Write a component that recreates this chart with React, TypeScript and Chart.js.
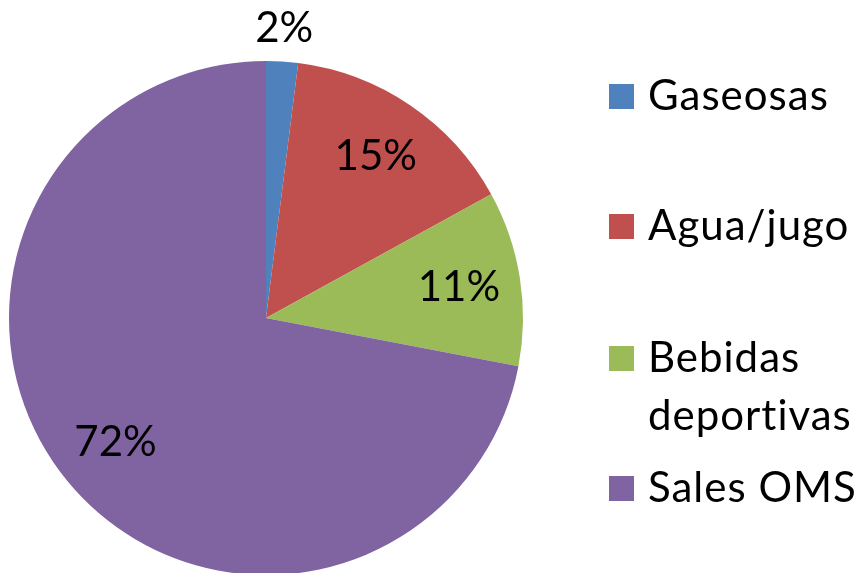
import React, { useEffect, useRef } from "react";
import { Chart, registerables } from "chart.js";

Chart.register(...registerables);

const categories: (string | string[])[] = ["Gaseosas", "Agua/jugo", ["Bebidas", "deportivas"], "Sales OMS"];
const values: number[] = [2, 15, 11, 72];
const pctLabels: string[] = ["2%", "15%", "11%", "72%"];
const colors: string[] = ["#4F81BD", "#C0504D", "#9BBB59", "#8064A2"];

const FONT = "Lato, 'Open Sans', sans-serif";

const labelPlugin = {
  id: "pctLabels",
  afterDatasetsDraw(chart: any) {
    const ctx = chart.ctx;
    const meta = chart.getDatasetMeta(0);
    const radii = [1.13, 0.76, 0.76, 0.76];
    ctx.save();
    ctx.fillStyle = "#000";
    ctx.font = `42px ${FONT}`;
    ctx.textAlign = "center";
    ctx.textBaseline = "middle";
    meta.data.forEach((arc: any, i: number) => {
      const p = arc.getProps(["x", "y", "startAngle", "endAngle", "outerRadius"], true);
      const mid = (p.startAngle + p.endAngle) / 2;
      const r = p.outerRadius * radii[i];
      ctx.fillText(pctLabels[i], p.x + Math.cos(mid) * r, p.y + Math.sin(mid) * r);
    });
    ctx.restore();
  },
};

const legendPlugin = {
  id: "sideLegend",
  afterDraw(chart: any) {
    const ctx = chart.ctx;
    const labels = chart.data.labels as (string | string[])[];
    const bg = chart.data.datasets[0].backgroundColor as string[];
    const baselines = [110, 240, 372, 502];
    const lineGap = 58;
    const sq = 25;
    const sqX = 609;
    const textX = 648;
    ctx.save();
    ctx.font = `42px ${FONT}`;
    (ctx as any).letterSpacing = "1px";
    ctx.textAlign = "left";
    ctx.textBaseline = "alphabetic";
    labels.forEach((lab, i) => {
      const b = baselines[i];
      ctx.fillStyle = bg[i];
      ctx.fillRect(sqX, b - sq - 1, sq, sq);
      ctx.fillStyle = "#000";
      const lines = Array.isArray(lab) ? lab : [lab];
      lines.forEach((t, j) => ctx.fillText(t, textX, b + j * lineGap));
    });
    ctx.restore();
  },
};

export default function App() {
  const ref = useRef<HTMLCanvasElement | null>(null);
  useEffect(() => {
    if (!ref.current) return;
    const chart = new Chart(ref.current, {
      type: "pie",
      data: {
        labels: categories as any,
        datasets: [
          {
            data: values,
            backgroundColor: colors,
            borderWidth: 0,
          },
        ],
      },
      options: {
        animation: false,
        responsive: false,
        maintainAspectRatio: false,
        layout: { padding: { left: 9, top: 61, right: 335, bottom: 25 } },
        plugins: {
          legend: { display: false },
          tooltip: { enabled: false },
        },
      },
      plugins: [labelPlugin, legendPlugin],
    });
    return () => chart.destroy();
  }, []);
  return (
    <div style={{ position: "fixed", left: 0, top: 0, width: 858, height: 573, overflow: "hidden", background: "#fff" }}>
      <canvas ref={ref} width={858} height={600} style={{ display: "block", width: 858, height: 600 }} />
    </div>
  );
}
